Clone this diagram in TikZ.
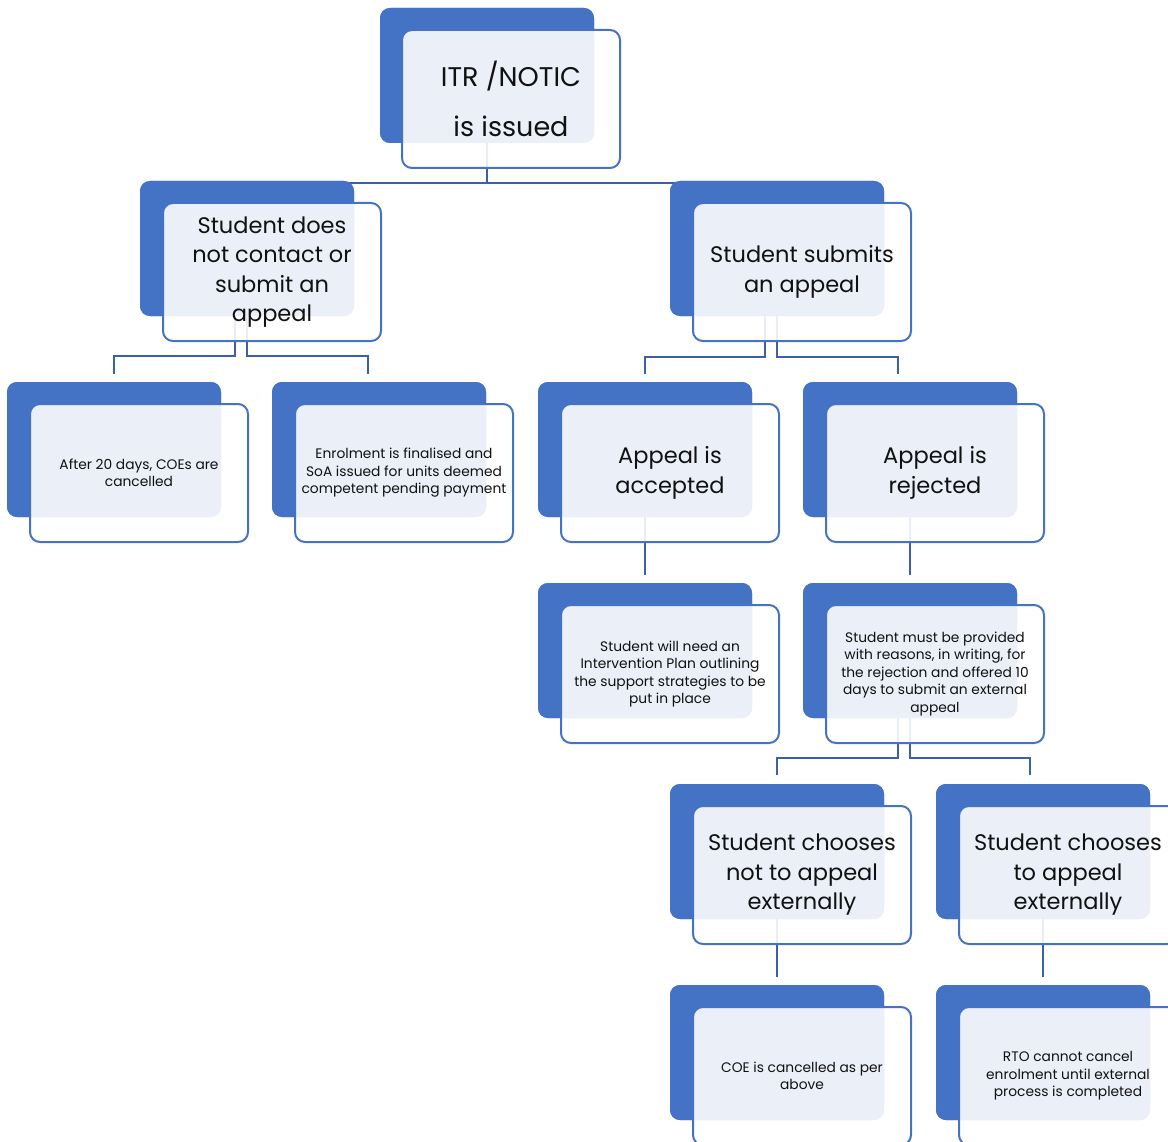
\documentclass[tikz,border=0pt]{standalone}
\usepackage{fontspec}
\setmainfont{Poppins}
\definecolor{boxblue}{HTML}{4472C4}
\definecolor{linkblue}{RGB}{59,96,170}
\definecolor{txt}{HTML}{111111}
\begin{document}
\begin{tikzpicture}[x=1pt,y=-1pt,
  back/.style={draw=none, fill=boxblue, rounded corners=10pt, minimum width=214pt, minimum height=135pt, anchor=north west, inner sep=0pt, outer sep=0pt},
  front/.style={draw=boxblue, line width=2pt, fill=white, fill opacity=0.89, text opacity=1, rounded corners=10pt, minimum width=218pt, minimum height=138pt, anchor=north west, align=center, text=txt, inner sep=0pt, outer sep=0pt},
  huge/.style={font=\fontsize{27}{50}\selectfont},
  big/.style={font=\fontsize{22.5}{29.5}\selectfont},
  small/.style={font=\fontsize{13.8}{17.5}\selectfont},
  link/.style={draw=linkblue, line width=2.2pt}]
\clip (0,0) rectangle (1168,1142);
\useasboundingbox (0,0) rectangle (1168,1142);
% connector end points
\coordinate (e4) at (114,374);
\coordinate (e5) at (368,374);
\coordinate (e6) at (645,374);
\coordinate (e7) at (898,374);
\coordinate (e8) at (645,575);
\coordinate (e9) at (910,575);
\coordinate (e10) at (777,775);
\coordinate (e11) at (1030,775);
\coordinate (e12) at (777,977);
\coordinate (e13) at (1043,977);
% back boxes (positions only, drawn later)
\path
  (380,8)   node[back] (b1) {}
  (140,181) node[back] (b2) {}
  (670,181) node[back] (b3) {}
  (7,382)   node[back] (b4) {}
  (272,382) node[back] (b5) {}
  (538,382) node[back] (b6) {}
  (803,382) node[back] (b7) {}
  (538,583) node[back] (b8) {}
  (803,583) node[back] (b9) {}
  (670,784) node[back] (b10) {}
  (936,784) node[back] (b11) {}
  (670,985) node[back] (b12) {}
  (936,985) node[back] (b13) {};
% connectors
\draw[link] (b1.south) -- ++(0,40) -| (b2.north);
\draw[link] (b1.south) -- ++(0,40) -| (b3.north);
\draw[link] ([xshift=-12pt]b2.south) -- ++(0,40) -| (e4);
\draw[link] (b2.south) -- ++(0,40) -| (e5);
\draw[link] ([xshift=-12pt]b3.south) -- ++(0,41) -| (e6);
\draw[link] (b3.south) -- ++(0,41) -| (e7);
\draw[link] (b6.south) -- (e8);
\draw[link] (b7.south) -- (e9);
\draw[link] ([xshift=-12pt]b9.south) -- ++(0,40) -| (e10);
\draw[link] (b9.south) -- ++(0,40) -| (e11);
\draw[link] (b10.south) -- (e12);
\draw[link] (b11.south) -- (e13);
% back boxes drawn
\foreach \n in {b1,b2,b3,b4,b5,b6,b7,b8,b9,b10,b11,b12,b13}
  \fill[boxblue, rounded corners=10pt] (\n.north west) rectangle (\n.south east);
% front boxes
\node[front, huge] (f1) at (402,30) {ITR /NOTIC\\is issued};
\node[front, big] (f2) at (163,203) {Student does\\not contact or\\submit an\\appeal};
\node[front, big] (f3) at (693,203) {Student submits\\an appeal};
\node[front, small] (f4) at (30,404) {After 20 days, COEs are\\cancelled};
\node[front, small] (f5) at (295,404) {Enrolment is finalised and\\SoA issued for units deemed\\competent pending payment};
\node[front, big] (f6) at (561,404) {Appeal is\\accepted};
\node[front, big] (f7) at (826,404) {Appeal is\\rejected};
\node[front, small] (f8) at (561,605) {Student will need an\\Intervention Plan outlining\\the support strategies to be\\put in place};
\node[front, small] (f9) at (826,605) {Student must be provided\\with reasons, in writing, for\\the rejection and offered 10\\days to submit an external\\appeal};
\node[front, big] (f10) at (693,806) {Student chooses\\not to appeal\\externally};
\node[front, big] (f11) at (959,806) {Student chooses\\to appeal\\externally};
\node[front, small] (f12) at (693,1007) {COE is cancelled as per\\above};
\node[front, small] (f13) at (959,1007) {RTO cannot cancel\\enrolment until external\\process is completed};
\end{tikzpicture}
\end{document}
